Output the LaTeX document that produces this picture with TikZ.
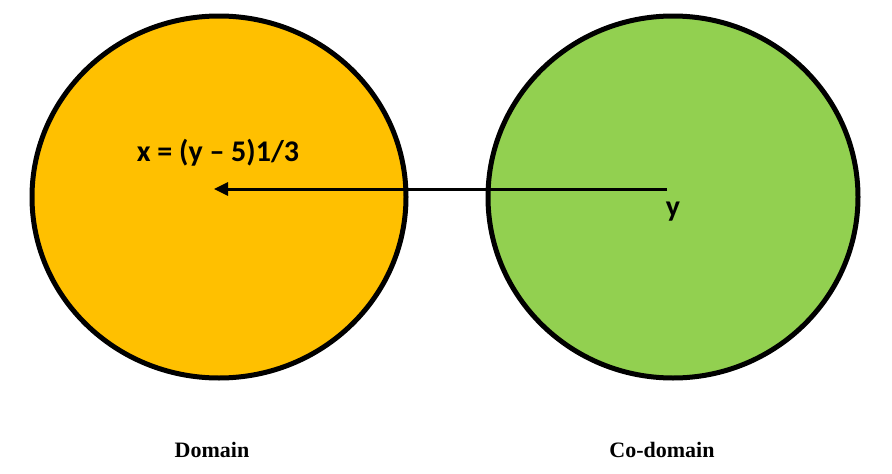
\documentclass[tikz,border=0pt]{standalone}
\usepackage{fontspec}
\setmainfont{Liberation Serif}
\newfontfamily\calib{Carlito}
\usetikzlibrary{arrows.meta}
\definecolor{orangefill}{HTML}{FFC000}
\definecolor{greenfill}{HTML}{92D050}
\begin{document}
\begin{tikzpicture}[x=1pt,y=-1pt,
  setshape/.style={draw=black,line width=5pt},
  mathlbl/.style={font=\calib\bfseries\fontsize{30}{34}\selectfont,inner sep=0pt},
  setlbl/.style={font=\bfseries\fontsize{22}{24}\selectfont,inner sep=0pt}]
\useasboundingbox (0,0) rectangle (892,474);
\fill[white] (0,0) rectangle (892,474);
\draw[setshape,fill=orangefill] (219,197) ellipse [x radius=187,y radius=181];
\draw[setshape,fill=greenfill] (673,197) ellipse [x radius=185,y radius=181];
\coordinate (ystart) at (667,189);
\coordinate (xend) at (214,189);
\draw[line width=3pt,-{Triangle[length=14pt,width=13pt]}] (ystart) -- (xend);
\node[mathlbl,anchor=base] (xl) at (218,161) {x = (y – 5)1/3};
\node[mathlbl,anchor=base] (yl) at (673,216) {y};
\node[setlbl,anchor=base] (dl) at (212,457) {Domain};
\node[setlbl,anchor=base] (cl) at (662,457) {Co-domain};
\end{tikzpicture}
\end{document}
